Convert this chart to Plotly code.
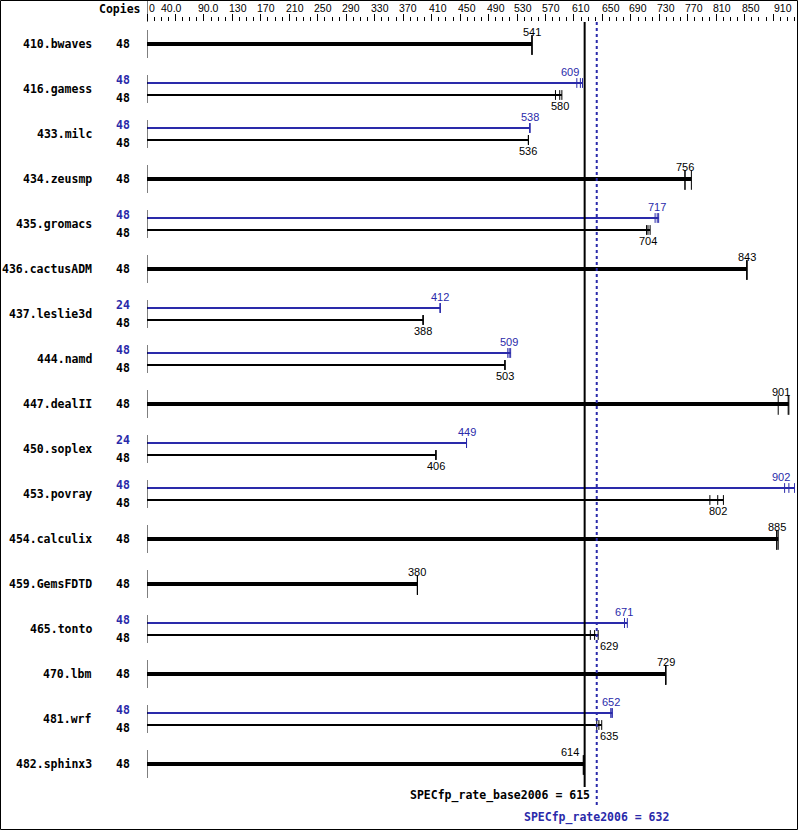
import plotly.graph_objects as go

# ---------------- data ----------------
benchmarks = ["410.bwaves", "416.gamess", "433.milc", "434.zeusmp", "435.gromacs",
              "436.cactusADM", "437.leslie3d", "444.namd", "447.dealII", "450.soplex",
              "453.povray", "454.calculix", "459.GemsFDTD", "465.tonto", "470.lbm",
              "481.wrf", "482.sphinx3"]
base_copies = [48, 48, 48, 48, 48, 48, 48, 48, 48, 48, 48, 48, 48, 48, 48, 48, 48]
base_ratio = [541, 580, 536, 756, 704, 843, 388, 503, 901, 406, 802, 885, 380, 629, 729, 635, 614]
base_lo = [541, 574, 536, 756, 702, 843, 388, 503, 887, 406, 791, 885, 380, 623, 729, 632, 613]
base_hi = [541, 583, 536, 765, 707, 843, 388, 503, 902, 406, 810, 887, 380, 634, 729, 639, 614]
peak_copies = [None, 48, 48, None, 48, None, 24, 48, None, 24, 48, None, None, 48, None, 48, None]
peak_ratio = [None, 609, 538, None, 717, None, 412, 509, None, 449, 902, None, None, 671, None, 652, None]
peak_lo = [None, 604, 538, None, 714, None, 412, 507, None, 449, 896, None, None, 671, None, 652, None]
peak_hi = [None, 612, 538, None, 719, None, 412, 511, None, 449, 910, None, None, 675, None, 654, None]
tick_labels = ["0", "40.0", "90.0", "130", "170", "210", "250", "290", "330", "370", "410",
               "450", "490", "530", "570", "610", "650", "690", "730", "770", "810", "850", "910"]
tick_label_at = [7, 35, 87, 128, 167, 208, 247, 287, 327, 367, 409, 450, 490, 528, 568,
                 610, 652, 690, 729, 769, 808, 849, 894]
base_mean = 615
peak_mean = 632
base_name = "SPECfp_rate_base2006"
peak_name = "SPECfp_rate2006"

# ---------------- layout constants ----------------
W, H = 799, 831
ML, MR, MT, MB = 147, 4, 22, 3
PW = W - ML - MR
PH = H - MT - MB
XMAX = 910.6
ROW0, ROWH = 44, 45
BLUE = "#2a2aaa"
BLACK = "#000000"
MONO = "DejaVu Sans Mono"
SANS = "Liberation Sans"


def px(v):
    return ML + v * PW / XMAX


def xpaper(p):
    return (p - ML) / PW


def ypaper(q):
    return (H - MB - q) / PH


fig = go.Figure()
shapes = []
annotations = []


def add_bar(y, med, lo, hi, color, width, tick_size, tick_dy, label_dy, lw_tick=1):
    fig.add_trace(go.Scatter(x=[0, hi], y=[y, y], mode="lines",
                             line=dict(color=color, width=width),
                             hoverinfo="skip", showlegend=False))
    fig.add_trace(go.Scatter(x=[lo, med, hi], y=[y + tick_dy] * 3, mode="markers",
                             marker=dict(symbol="line-ns", size=tick_size,
                                         line=dict(color=color, width=lw_tick)),
                             hoverinfo="skip", showlegend=False))
    # value label placement (avoid reference lines and right edge)
    c = px(med)
    half = 9.5
    lref = px(base_mean) - 2.5
    rref = px(peak_mean) + 1
    xa = "center"
    xl = c
    if c + half > lref and c - half < rref:
        if c < (lref + rref) / 2:
            xl, xa = lref - 1, "right"
        else:
            xl, xa = rref, "left"
    elif c + half > W - 7:
        xl, xa = W - 7, "right"
    annotations.append(dict(x=xpaper(xl), xref="paper", y=y + label_dy, yref="y",
                            text=str(med), showarrow=False, xanchor=xa, yanchor="middle",
                            font=dict(family=SANS, size=11, color=color)))


for i, name in enumerate(benchmarks):
    y = ROW0 + ROWH * i
    annotations.append(dict(x=xpaper(94), xref="paper", y=y, yref="y",
                            text="<b>%s</b>" % name, showarrow=False, xanchor="right",
                            yanchor="middle", font=dict(family=MONO, size=11.5, color=BLACK)))
    shapes.append(dict(type="line", xref="x", yref="y", x0=0, x1=0, y0=y - 14, y1=y + 14,
                       line=dict(color=BLACK, width=1)))
    if peak_ratio[i] is not None:
        add_bar(y - 6, peak_ratio[i], peak_lo[i], peak_hi[i], BLUE, 2, 7, 0, -11)
        add_bar(y + 6, base_ratio[i], base_lo[i], base_hi[i], BLACK, 2, 7, 0, 11)
        annotations.append(dict(x=xpaper(132), xref="paper", y=y - 9, yref="y",
                                text="<b>%d</b>" % peak_copies[i], showarrow=False,
                                xanchor="right", yanchor="middle",
                                font=dict(family=MONO, size=11.5, color=BLUE)))
        annotations.append(dict(x=xpaper(132), xref="paper", y=y + 9, yref="y",
                                text="<b>%d</b>" % base_copies[i], showarrow=False,
                                xanchor="right", yanchor="middle",
                                font=dict(family=MONO, size=11.5, color=BLACK)))
    else:
        add_bar(y, base_ratio[i], base_lo[i], base_hi[i], BLACK, 4, 14, 1, -12)
        annotations.append(dict(x=xpaper(132), xref="paper", y=y, yref="y",
                                text="<b>%d</b>" % base_copies[i], showarrow=False,
                                xanchor="right", yanchor="middle",
                                font=dict(family=MONO, size=11.5, color=BLACK)))

# reference lines
shapes.append(dict(type="line", xref="x", yref="y", x0=base_mean, x1=base_mean,
                   y0=MT, y1=787, line=dict(color=BLACK, width=2)))
shapes.append(dict(type="line", xref="x", yref="y", x0=peak_mean, x1=peak_mean,
                   y0=MT, y1=807, line=dict(color=BLUE, width=2, dash="dot")))
annotations.append(dict(x=xpaper(px(base_mean) + 7), xref="paper", y=795, yref="y",
                        text="<b>%s = %d</b>" % (base_name, base_mean), showarrow=False,
                        xanchor="right", yanchor="middle",
                        font=dict(family=MONO, size=11.5, color=BLACK)))
annotations.append(dict(x=xpaper(px(peak_mean)), xref="paper", y=817, yref="y",
                        text="<b>%s = %d</b>" % (peak_name, peak_mean), showarrow=False,
                        xanchor="center", yanchor="middle",
                        font=dict(family=MONO, size=11.5, color=BLUE)))

# header: Copies + tick labels
annotations.append(dict(x=xpaper(143), xref="paper", y=ypaper(9), yref="paper",
                        text="<b>Copies</b>", showarrow=False, xanchor="right",
                        yanchor="middle", font=dict(family=MONO, size=11.5, color=BLACK)))
for lab, at in zip(tick_labels, tick_label_at):
    annotations.append(dict(x=at, xref="x", y=ypaper(8), yref="paper", text=lab,
                            showarrow=False, xanchor="center", yanchor="middle",
                            font=dict(family=SANS, size=10.5, color=BLACK)))

# frame
shapes.append(dict(type="rect", xref="paper", yref="paper",
                   x0=xpaper(0.5), x1=xpaper(W - 1.5), y0=ypaper(H - 1.5), y1=ypaper(0.5),
                   line=dict(color=BLACK, width=1)))
# separator line at the left of the tick ruler
shapes.append(dict(type="line", xref="x", yref="paper", x0=0, x1=0,
                   y0=ypaper(MT), y1=ypaper(1), line=dict(color=BLACK, width=1)))

fig.update_layout(
    width=W, height=H, margin=dict(l=ML, r=MR, t=MT, b=MB),
    paper_bgcolor="white", plot_bgcolor="white",
    shapes=shapes, annotations=annotations, showlegend=False,
    xaxis=dict(range=[0, XMAX], side="top", tickmode="linear", tick0=0, dtick=40,
               ticks="outside", ticklen=7, tickwidth=1, tickcolor=BLACK,
               showticklabels=False, showgrid=False, zeroline=False, showline=False,
               fixedrange=True,
               minor=dict(tick0=0, dtick=10, ticks="outside", ticklen=4, tickwidth=1,
                          tickcolor=BLACK, showgrid=False)),
    yaxis=dict(range=[H - MB, MT], visible=False, fixedrange=True),
)

fig.write_html("out.html", config={"displayModeBar": False},
               post_script="document.body.style.margin='0';document.body.style.overflow='hidden';")
